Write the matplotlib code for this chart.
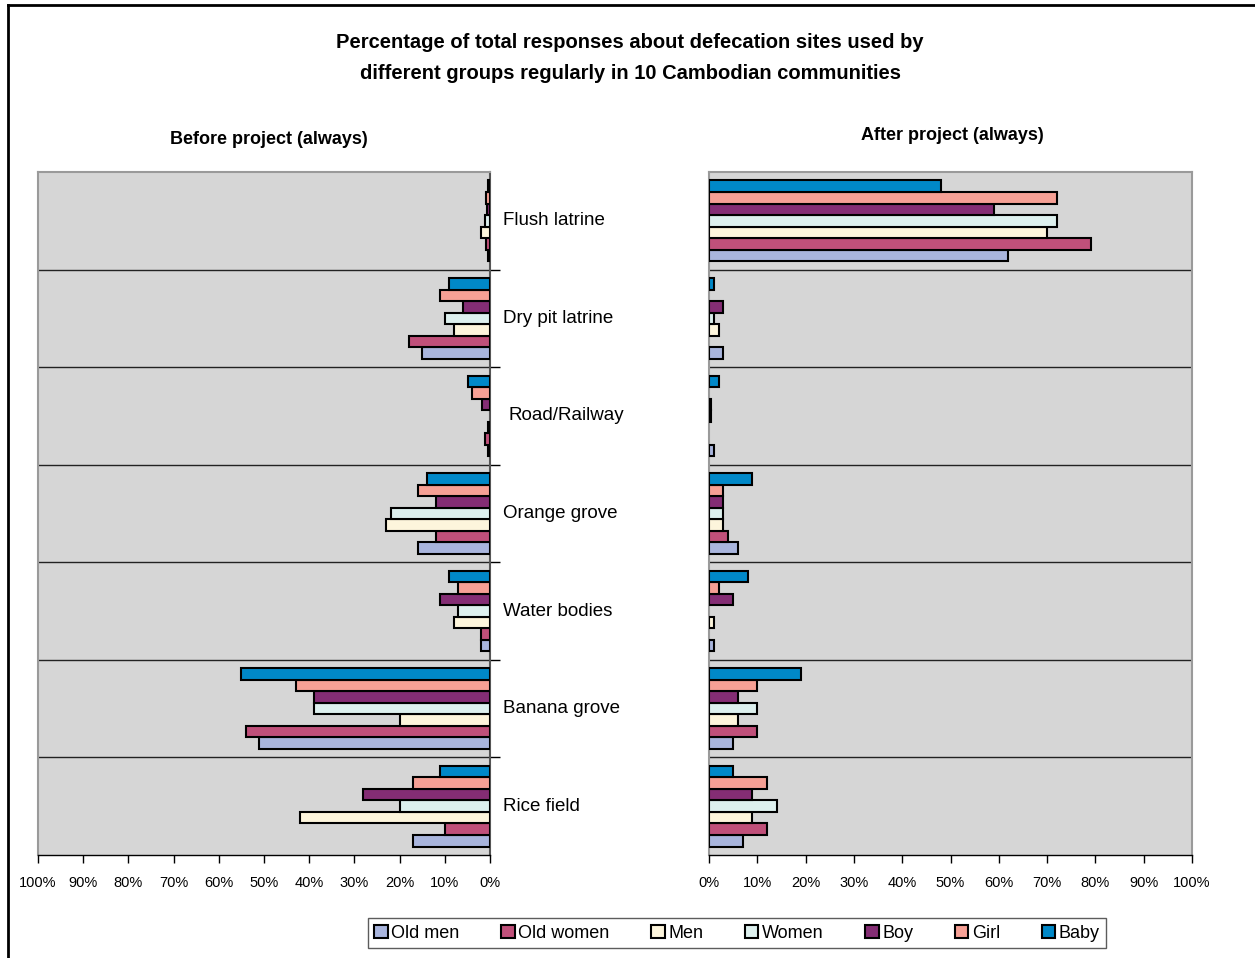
#!/usr/bin/env python

# Import libraries
import matplotlib
matplotlib.use('Agg')
import matplotlib.pyplot as plt
from matplotlib.transforms import blended_transform_factory
from matplotlib.lines import Line2D
import numpy as np

plt.rcParams['font.family'] = ['Liberation Sans', 'DejaVu Sans']

# Defecation sites, listed top to bottom
sites = ['Flush latrine', 'Dry pit latrine', 'Road/Railway', 'Orange grove',
         'Water bodies', 'Banana grove', 'Rice field']

# Groups in legend order
groups = ['Old men', 'Old women', 'Men', 'Women', 'Boy', 'Girl', 'Baby']
colors = ['#A9B5DD', '#C0507A', '#FDF5DC', '#DDF0EE', '#842D74', '#F6A095', '#0088C8']

# Percentages before the project, one list per group (same order as sites)
before = {
    'Old men':   [0.4, 15, 0.4, 16, 2, 51, 17],
    'Old women': [0.8, 18, 1.0, 12, 2, 54, 10],
    'Men':       [2.0, 8, 0.4, 23, 8, 20, 42],
    'Women':     [1.0, 10, 0, 22, 7, 39, 20],
    'Boy':       [0.6, 6, 1.8, 12, 11, 39, 28],
    'Girl':      [0.8, 11, 3.9, 16, 7, 43, 17],
    'Baby':      [0.4, 9, 4.9, 14, 9, 55, 11],
}

# Percentages after the project
after = {
    'Old men':   [62, 3, 1.0, 6, 1, 5, 7],
    'Old women': [79, 0, 0, 4, 0, 10, 12],
    'Men':       [70, 2, 0, 3, 1, 6, 9],
    'Women':     [72, 1, 0.5, 3, 0, 10, 14],
    'Boy':       [59, 3, 0.5, 3, 5, 6, 9],
    'Girl':      [72, 0, 0, 3, 2, 10, 12],
    'Baby':      [48, 1, 2, 9, 8, 19, 5],
}

W, H = 1255, 958
fig = plt.figure(figsize=(W / 100, H / 100), dpi=100)

# Panel rectangles in pixels: left, right, top, bottom
def px_axes(x0, x1, y0, y1):
    return fig.add_axes([x0 / W, 1 - y1 / H, (x1 - x0) / W, (y1 - y0) / H])

ax_b = px_axes(38, 490, 172, 855)
ax_a = px_axes(709, 1192, 172, 855)

bar_h = 0.118
margin = (1 - bar_h * len(groups)) / 2
n_sites = len(sites)
base = np.arange(n_sites)


def draw_panel(ax, data, flip):
    # Baby bar at the top of each site block, Old men at the bottom
    for k, (g, c) in enumerate(zip(groups, colors)):
        slot = len(groups) - 1 - k
        vals = np.array(data[g], dtype=float)
        lw = np.where(vals > 0, 1.5, 0)
        ax.barh(base + margin + slot * bar_h, vals, height=bar_h, align='edge',
                color=c, edgecolor='black', linewidth=lw, label=g, zorder=3)

    ax.set_facecolor('#D6D6D6')
    ax.set_ylim(n_sites, 0)
    ax.set_yticks(np.arange(1, n_sites))
    ax.set_yticklabels([])
    ax.grid(axis='y', color='#222222', linewidth=1.0, zorder=1)
    ax.set_xticks(np.arange(0, 101, 10))
    ax.set_xticklabels([f'{t}%' for t in range(0, 101, 10)], fontsize=10.5)
    ax.tick_params(axis='x', direction='out', length=6, width=1, pad=9)
    for s in ax.spines.values():
        s.set_color('#9A9A9A')
        s.set_linewidth(1.5)
    ax.spines['bottom'].set_color('black')
    ax.spines['bottom'].set_linewidth(1.0)
    if flip:
        ax.set_xlim(100, 0)
        ax.yaxis.tick_right()
        ax.spines['right'].set_color('#555555')
        ax.tick_params(axis='y', direction='out', length=7, width=1, right=True, left=False)
    else:
        ax.set_xlim(0, 100)
        ax.tick_params(axis='y', length=0)


draw_panel(ax_b, before, True)
draw_panel(ax_a, after, False)

# Site names between the two panels
trans = blended_transform_factory(fig.transFigure, ax_b.transData)
for i, name in enumerate(sites):
    x = 509 if name == 'Road/Railway' else 503
    fig.text(x / W, i + 0.5, name, transform=trans, ha='left', va='center', fontsize=13.5)

# Titles
fig.text(630 / W, 1 - 58 / H,
         'Percentage of total responses about defecation sites used by\n'
         'different groups regularly in 10 Cambodian communities',
         ha='center', va='center', fontsize=14.5, fontweight='bold', linespacing=1.8)
fig.text(269 / W, 1 - 140 / H, 'Before project (always)', ha='center', va='center',
         fontsize=13, fontweight='bold')
fig.text(952 / W, 1 - 135 / H, 'After project (always)', ha='center', va='center',
         fontsize=13, fontweight='bold')

# Legend along the bottom
handles, labels = ax_a.get_legend_handles_labels()
leg = fig.legend(handles, labels, loc='center', bbox_to_anchor=(737 / W, 1 - 933 / H),
                 ncol=7, fontsize=13, frameon=True, fancybox=False, edgecolor='#333333',
                 handlelength=0.75, handleheight=0.75, handletextpad=0.2,
                 columnspacing=2.3, borderpad=0.35)
leg.get_frame().set_linewidth(1.0)

# Outer frame (left and top edges)
fig.add_artist(Line2D([8 / W, 8 / W], [0, 1 - 5 / H], color='black', linewidth=2,
                      transform=fig.transFigure))
fig.add_artist(Line2D([8 / W, 1], [1 - 5 / H, 1 - 5 / H], color='black', linewidth=2,
                      transform=fig.transFigure))

fig.savefig('out.png', dpi=100)
